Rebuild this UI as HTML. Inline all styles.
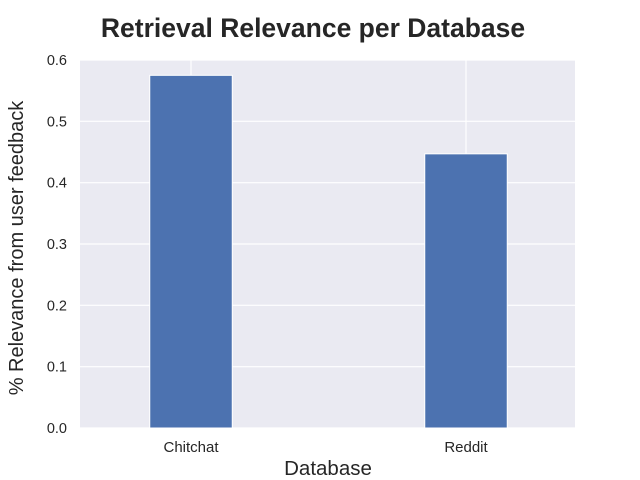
<!DOCTYPE html>
<html><head><meta charset="utf-8"><style>
body{margin:0;background:#fff;}
svg{display:block;font-family:"Liberation Sans","DejaVu Sans",sans-serif;}
</style></head><body>
<svg id="chart" width="640" height="480">
<text x="313" y="37" text-anchor="middle" font-size="26.5" font-weight="bold" fill="#262626">Retrieval Relevance per Database</text>
<rect x="80" y="60" width="495" height="368" fill="#eaeaf2"/>
<g id="grid"></g>
<g id="bars"></g>
<g id="ticks"></g>
<text x="328" y="475" text-anchor="middle" font-size="20.5" fill="#262626">Database</text>
<text transform="translate(23,248) rotate(-90)" text-anchor="middle" font-size="20" fill="#262626">% Relevance from user feedback</text>
</svg>
<script>
const categories = ["Chitchat", "Reddit"];
const values = [0.575, 0.447];
const yTicks = [0.0, 0.1, 0.2, 0.3, 0.4, 0.5, 0.6];
const NS = "http://www.w3.org/2000/svg";
const L = 81, R = 576, T = 60, B = 428;
const xmin = -0.4, xmax = 1.4, ymin = 0, ymax = 0.6;
const xs = i => L + (i - xmin) / (xmax - xmin) * (R - L);
const ys = v => B - (v - ymin) / (ymax - ymin) * (B - T);
const bw = 0.3 * (R - L) / (xmax - xmin);
function mk(tag, attrs, parent){const e=document.createElementNS(NS,tag);for(const k in attrs)e.setAttribute(k,attrs[k]);parent.appendChild(e);return e;}
const grid=document.getElementById('grid'), bars=document.getElementById('bars'), ticks=document.getElementById('ticks');
yTicks.forEach(t=>{
  const l=mk('line',{x1:80,x2:575,y1:ys(t),y2:ys(t),stroke:'#fff','stroke-width':1.2},grid);
  
  
  const tx=mk('text',{x:67,y:ys(t)+5,'text-anchor':'end','font-size':14.5,fill:'#262626'},ticks);
  tx.textContent=t.toFixed(1);
  
  
});
categories.forEach((c,i)=>{
  const l=mk('line',{x1:xs(i),x2:xs(i),y1:T,y2:B,stroke:'#fff','stroke-width':1.2},grid);
  
  
  const r=mk('rect',{x:xs(i)-bw/2,y:ys(values[i]),width:bw,height:ys(0)-ys(values[i]),fill:'#4c72b0',stroke:'#fff','stroke-width':1},bars);
  
  
  const tx=mk('text',{x:xs(i),y:B+24,'text-anchor':'middle','font-size':15,fill:'#262626'},ticks);
  tx.textContent=c;
  
  
});
</script>
</body></html>
